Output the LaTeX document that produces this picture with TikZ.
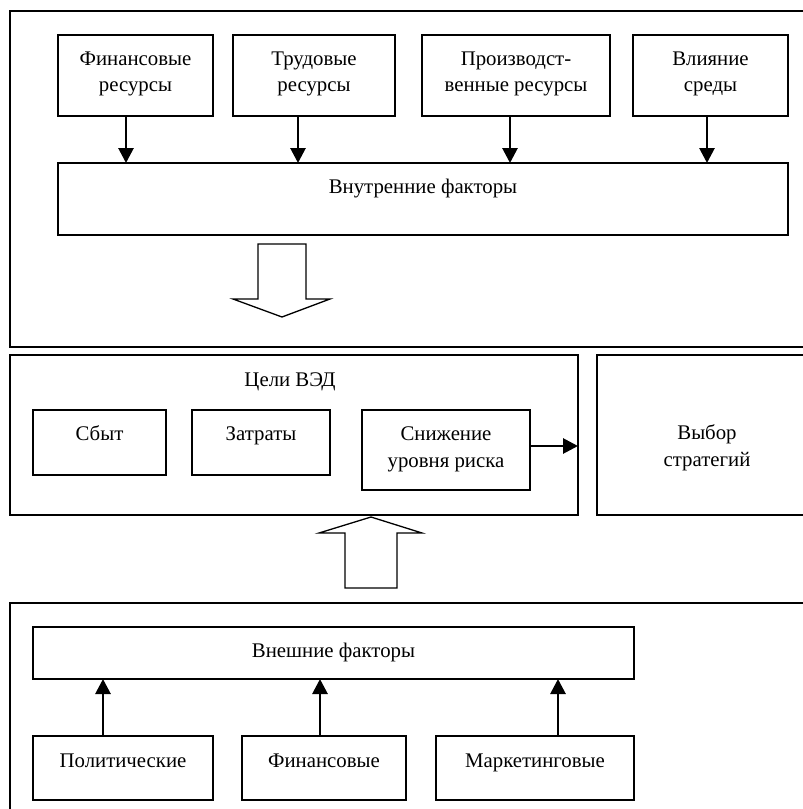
\documentclass[tikz,border=0pt]{standalone}
\usepackage{fontspec}
\setmainfont{Liberation Serif}
\usetikzlibrary{arrows.meta}
\begin{document}
\begin{tikzpicture}[x=1pt,y=-1pt,
  every node/.style={font=\fontsize{20.8}{26.5}\selectfont, inner sep=0pt, outer sep=0pt},
  box/.style={draw, line width=1.6pt, rectangle},
  txt/.style={anchor=base, align=center},
  frame/.style={line width=1.6pt},
  conn/.style={line width=2.8pt, -{Triangle[length=15pt,width=15pt]}},
  hollow/.style={line width=1.3pt, fill=white, line join=miter}]
\useasboundingbox (0,0) rectangle (803,809);

% ---------- top frame ----------
\draw[frame] (803,11) -- (10,11) -- (10,347) -- (803,347);
\node[box, minimum width=155pt, minimum height=81pt] (fin) at (135.5,75.5) {};
\node[box, minimum width=162pt, minimum height=81pt] (trud) at (314,75.5) {};
\node[box, minimum width=188pt, minimum height=81pt] (proizv) at (516,75.5) {};
\node[box, minimum width=155pt, minimum height=81pt] (vliy) at (710.5,75.5) {};
\node[box, minimum width=730pt, minimum height=72pt] (vnutr) at (423,199) {};

% (base anchor of a two-line node = baseline of its last line)
\node[txt] (tfin) at (135.5,91.5) {Финансовые\\ресурсы};
\node[txt] (ttrud) at (314,91.5) {Трудовые\\ресурсы};
\node[txt] (tproizv) at (516,91.5) {Производст-\\венные ресурсы};
\node[txt] (tvliy) at (710.5,91.5) {Влияние\\среды};
\node[txt] (tvnutr) at (423,193) {Внутренние факторы};

\draw[conn] ([xshift=-9.5pt]fin.south) -- ([xshift=-9.5pt]fin.south |- vnutr.north);
\draw[conn] ([xshift=-16pt]trud.south) -- ([xshift=-16pt]trud.south |- vnutr.north);
\draw[conn] ([xshift=-6pt]proizv.south) -- ([xshift=-6pt]proizv.south |- vnutr.north);
\draw[conn] ([xshift=-3.5pt]vliy.south) -- ([xshift=-3.5pt]vliy.south |- vnutr.north);

% hollow arrow down
\draw[hollow] (258,244) -- (306,244) -- (306,299) -- (330,299) -- (282,317) -- (233,299) -- (258,299) -- cycle;

% ---------- middle ----------
\node[box, minimum width=568pt, minimum height=160pt] (mid) at (294,435) {};
\node[txt] (tceli) at (290,386) {Цели ВЭД};
\node[box, minimum width=133pt, minimum height=65pt] (sbyt) at (99.5,442.5) {};
\node[box, minimum width=138pt, minimum height=65pt] (zatr) at (261,442.5) {};
\node[box, minimum width=168pt, minimum height=80pt] (snizh) at (446,450) {};
\node[txt] (tsbyt) at (99.5,440) {Сбыт};
\node[txt] (tzatr) at (261,440) {Затраты};
\node[txt] (tsnizh) at (446,467) {Снижение\\уровня риска};
\draw[conn] ([yshift=4pt]snizh.east) -- ([yshift=4pt]snizh.east -| mid.east);

\draw[frame] (803,355) -- (597,355) -- (597,515) -- (803,515);
\node[txt] (tvybor) at (707,466) {Выбор\\стратегий};

% hollow arrow up
\draw[hollow] (345,588) -- (397,588) -- (397,533) -- (422,533) -- (371,517) -- (319,533) -- (345,533) -- cycle;

% ---------- bottom frame ----------
\draw[frame] (803,603) -- (10,603) -- (10,812);
\node[box, minimum width=601pt, minimum height=52pt] (vnesh) at (333.5,653) {};
\node[txt] (tvnesh) at (333.5,657) {Внешние факторы};
\node[box, minimum width=180pt, minimum height=64pt] (polit) at (123,768) {};
\node[box, minimum width=164pt, minimum height=64pt] (finb) at (324,768) {};
\node[box, minimum width=198pt, minimum height=64pt] (mark) at (535,768) {};
\node[txt] (tpolit) at (123,767) {Политические};
\node[txt] (tfinb) at (324,767) {Финансовые};
\node[txt] (tmark) at (535,767) {Маркетинговые};

\draw[conn] ([xshift=-20pt]polit.north) -- ([xshift=-20pt]polit.north |- vnesh.south);
\draw[conn] ([xshift=-4pt]finb.north) -- ([xshift=-4pt]finb.north |- vnesh.south);
\draw[conn] ([xshift=23pt]mark.north) -- ([xshift=23pt]mark.north |- vnesh.south);
\end{tikzpicture}
\end{document}
